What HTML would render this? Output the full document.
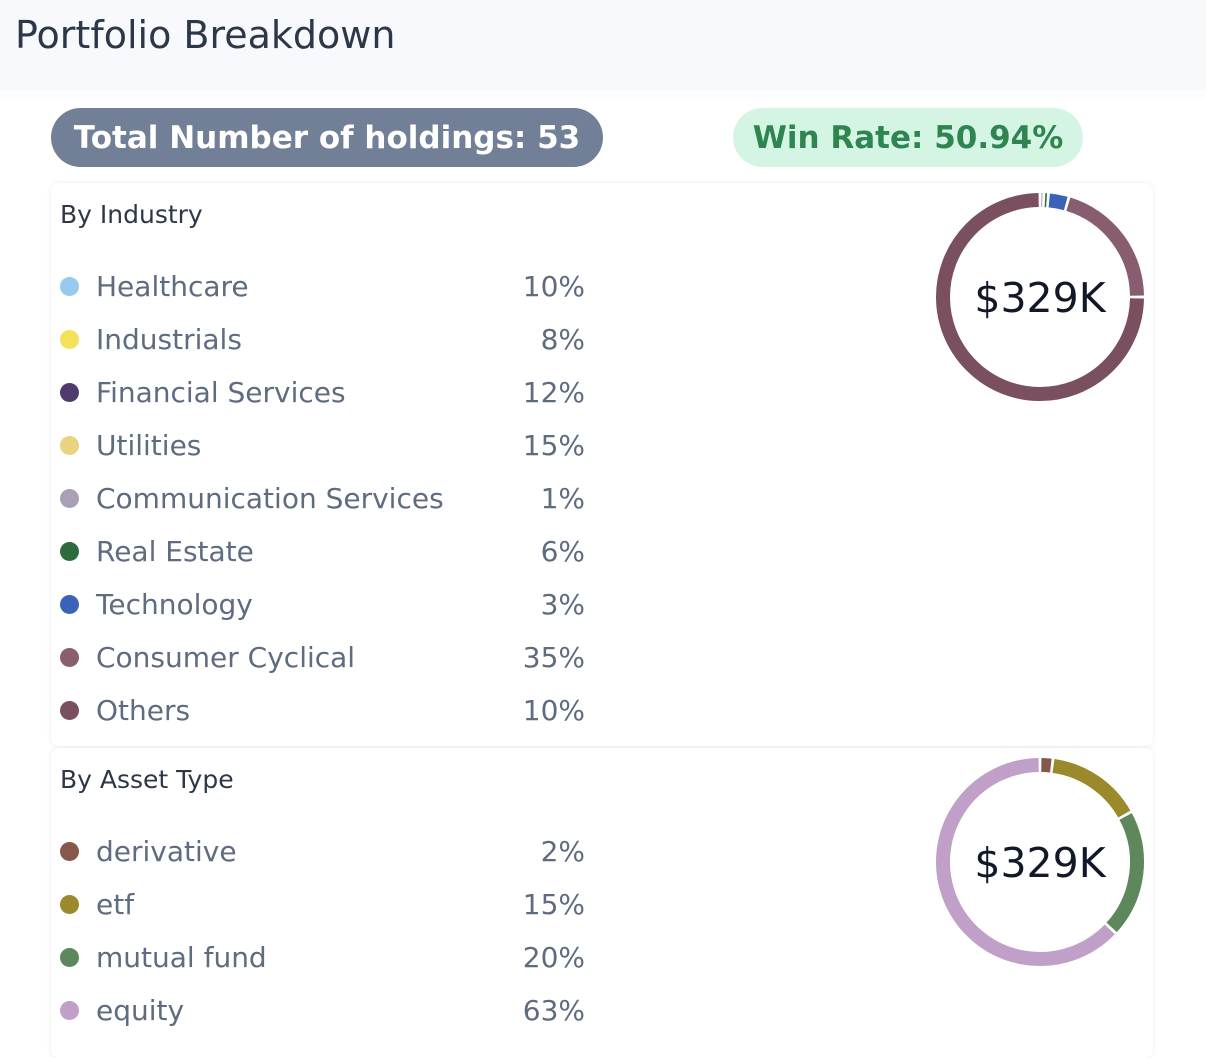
<!DOCTYPE html>
<html><head><meta charset="utf-8">
<style>
*{box-sizing:border-box;margin:0;padding:0}
body{width:1206px;height:1048px;background:#fff;font-family:"DejaVu Sans","Liberation Sans",sans-serif;position:relative;overflow:hidden}
.header{position:absolute;left:0;top:0;width:1206px;height:90px;background:#f7f9fc}
.header h1{position:absolute;left:15px;top:13px;font-size:38px;font-weight:normal;color:#2d3748}
.sep{position:absolute;left:0;top:90px;width:1206px;height:7px;background:#fbfcfd}
.badge{position:absolute;height:59px;border-radius:30px;display:flex;align-items:center;justify-content:center;font-weight:bold;font-size:31px}
.card{position:absolute;left:51px;width:1102px;background:#fff;border-radius:8px;box-shadow:0 0 6px rgba(0,0,0,0.08)}
.card h2{position:absolute;left:9px;font-size:25px;font-weight:normal;color:#2d3748}
.row{position:absolute;left:0;width:540px;height:40px;font-size:28px;color:#5f6b7f}
.dot{position:absolute;left:9px;top:7px;width:19px;height:19px;border-radius:50%}
.lbl{position:absolute;left:45px;top:0px;white-space:nowrap}
.pct{position:absolute;right:6px;top:0px}
svg{position:absolute}
</style></head><body>
<div class="header"><h1>Portfolio Breakdown</h1></div>
<div class="sep"></div>
<div class="badge" style="left:51px;top:108px;width:552px;background:#718096;color:#fff">Total Number of holdings: 53</div>
<div class="badge" style="left:733px;top:108px;width:350px;background:#d4f5e4;color:#2f8550">Win Rate: 50.94%</div>

<div class="card" id="c1" style="top:183px;height:563px"><h2 style="top:17px">By Industry</h2></div>
<div class="card" id="c2" style="top:748px;height:310px"><h2 style="top:17px">By Asset Type</h2></div>

<script>
const indLabels=["Healthcare","Industrials","Financial Services","Utilities","Communication Services","Real Estate","Technology","Consumer Cyclical","Others"];
const indPcts=[10,8,12,15,1,6,3,35,10];
const indColors=["#98c9ef","#f5e05a","#4e3a6b","#e8d47e","#a9a0b6","#2e6b3c","#3a63b8","#8a5d6f","#7a4f5f"];
const indDonutLabels=["Communication Services","Real Estate","Technology","Consumer Cyclical","Others"];
const indDonutValues=[0.6,0.7,3.2,20.5,75];
const indDonutColors=["#a9a0b6","#2e6b3c","#3a63b8","#895d70","#7a4f5f"];
const assetLabels=["derivative","etf","mutual fund","equity"];
const assetPcts=[2,15,20,63];
const assetColors=["#85584b","#9a8a2b","#5e875c","#c0a0c8"];

function legend(card,labels,pcts,colors,top){
  labels.forEach((l,i)=>{
    const r=document.createElement('div');r.className='row';r.style.top=(top+i*53)+'px';
    
    
    r.innerHTML='<div class="dot" style="background:'+colors[i]+'"></div><span class="lbl">'+l+'</span><span class="pct">'+pcts[i]+'%</span>';
    card.appendChild(r);
  });
}
function donut(card,vals,colors,cx,cy,name){
  const ns='http://www.w3.org/2000/svg';
  const s=document.createElementNS(ns,'svg');
  s.setAttribute('width',card.offsetWidth);s.setAttribute('height',card.offsetHeight);
  s.style.left='0';s.style.top='0';
  
  
  const R=97,tot=vals.reduce((a,b)=>a+b,0);let a0=0;
  vals.forEach((v,i)=>{
    const a1=a0+v/tot*2*Math.PI;
    const g=0.028;
    const s0=a0+g/2,s1=Math.max(a1-g/2,s0+0.008);
    const p=document.createElementNS(ns,'path');
    const x0=cx+R*Math.sin(s0),y0=cy-R*Math.cos(s0),x1=cx+R*Math.sin(s1),y1=cy-R*Math.cos(s1);
    p.setAttribute('d','M'+x0+' '+y0+' A'+R+' '+R+' 0 '+((s1-s0)>Math.PI?1:0)+' 1 '+x1+' '+y1);
    p.setAttribute('fill','none');p.setAttribute('stroke',colors[i]);p.setAttribute('stroke-width',14);
    
    
    s.appendChild(p);a0=a1;
  });
  const t=document.createElementNS(ns,'text');
  t.setAttribute('x',cx);t.setAttribute('y',cy+15);t.setAttribute('text-anchor','middle');
  t.setAttribute('font-size','41');t.setAttribute('fill','#111827');t.setAttribute('font-family','DejaVu Sans, sans-serif');
  t.textContent='$329K';
  
  
  s.appendChild(t);card.appendChild(s);
}
const c1=document.getElementById('c1'),c2=document.getElementById('c2');
legend(c1,indLabels,indPcts,indColors,87);
legend(c2,assetLabels,assetPcts,assetColors,87);
donut(c1,indDonutValues,indDonutColors,989,114,'industry-donut');
donut(c2,assetPcts,assetColors,989,114,'asset-type-donut');
</script>
</body></html>
